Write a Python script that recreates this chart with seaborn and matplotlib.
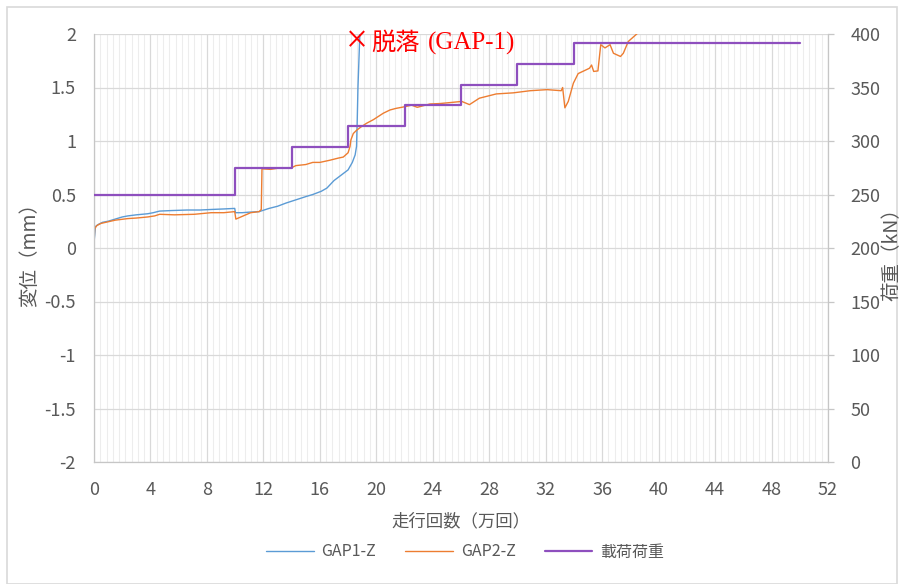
import matplotlib
matplotlib.use("Agg")
import matplotlib.pyplot as plt
from matplotlib.ticker import MultipleLocator
from matplotlib.patches import Rectangle
import seaborn as sns
import pandas as pd

# Running cycles (x 10,000) and gap displacement (mm)
gap1_x = [0, 0.05, 0.1, 0.3, 0.6, 1.0, 1.5, 2.0, 2.4, 3.0,
          3.8, 4.2, 4.65, 5.5, 6.6, 7.5, 8.3, 9.2, 9.97, 10.02,
          10.5, 11.0, 11.7, 12.4, 13.0, 13.6, 14.3, 15.0, 15.5, 16.1,
          16.5, 17.0, 17.5, 18.0, 18.3, 18.5, 18.6, 18.65, 18.7, 18.78,
          18.85, 18.9]
gap1_y = [0.05, 0.12, 0.20, 0.22, 0.24, 0.25, 0.27, 0.29, 0.30, 0.31,
          0.32, 0.33, 0.345, 0.35, 0.355, 0.355, 0.36, 0.365, 0.37, 0.33,
          0.33, 0.335, 0.34, 0.37, 0.39, 0.42, 0.45, 0.48, 0.50, 0.53,
          0.56, 0.63, 0.68, 0.73, 0.80, 0.87, 0.95, 1.20, 1.50, 1.80,
          2.05, 2.40]

gap2_x = [0, 0.05, 0.2, 0.5, 1.0, 1.5, 2.4, 3.0, 3.8, 4.3,
          4.65, 5.7, 7.1, 8.3, 9.2, 9.97, 10.05, 10.4, 11.1, 11.7,
          11.85, 11.9, 12.5, 13.0, 13.5, 14.0, 14.3, 15.0, 15.5, 16.0,
          16.7, 17.3, 17.66, 18.0, 18.14, 18.2, 18.37, 18.6, 18.9, 19.3,
          19.8, 20.5, 20.97, 21.4, 22.0, 22.5, 22.9, 23.8, 24.5, 25.3,
          26.05, 26.6, 27.3, 28.5, 29.7, 30.9, 32.1, 33.1, 33.2, 33.36,
          33.6, 33.96, 34.3, 35.1, 35.25, 35.4, 35.7, 35.9, 36.2, 36.56,
          36.8, 37.3, 37.5, 37.85, 38.45, 38.8]
gap2_y = [0.04, 0.18, 0.21, 0.23, 0.245, 0.26, 0.275, 0.28, 0.29, 0.30,
          0.315, 0.31, 0.315, 0.33, 0.33, 0.34, 0.27, 0.29, 0.33, 0.34,
          0.36, 0.74, 0.735, 0.745, 0.745, 0.75, 0.77, 0.78, 0.80, 0.80,
          0.82, 0.84, 0.85, 0.89, 0.95, 1.01, 1.07, 1.10, 1.13, 1.165,
          1.20, 1.26, 1.29, 1.305, 1.32, 1.335, 1.315, 1.346, 1.35, 1.36,
          1.37, 1.34, 1.40, 1.44, 1.45, 1.47, 1.48, 1.47, 1.50, 1.31,
          1.37, 1.54, 1.63, 1.68, 1.71, 1.65, 1.655, 1.90, 1.87, 1.90,
          1.82, 1.79, 1.82, 1.93, 2.00, 2.05]

# Applied load steps (kN), each held until the next step starts
load_x = [0, 10, 14, 18, 22, 26, 30, 34, 50]
load_kn = [250, 274.4, 294, 313.6, 333.2, 352.8, 372.4, 392, 392]

x_ticks = list(range(0, 53, 4))
y_ticks = [-2, -1.5, -1, -0.5, 0, 0.5, 1, 1.5, 2]
load_ticks = list(range(0, 401, 50))

series_labels = ["GAP1-Z", "GAP2-Z", "載荷荷重"]
colors = ["#5B9BD5", "#ED7D31", "#8E4FBE"]

sns.set_theme(style="white")
plt.rcParams["font.family"] = ["Noto Sans CJK JP", "DejaVu Sans"]
text_gray = "#595959"
grid_gray = "#d9d9d9"

fig = plt.figure(figsize=(9.05, 5.84), dpi=100)
ax = fig.add_axes([94 / 905, 1 - 462 / 584, (828 - 94) / 905, (462 - 34) / 584])
ax2 = ax.twinx()

df1 = pd.DataFrame({"x": gap1_x, "y": gap1_y})
df2 = pd.DataFrame({"x": gap2_x, "y": gap2_y})
dfl = pd.DataFrame({"x": load_x, "y": load_kn})

sns.lineplot(data=df1, x="x", y="y", ax=ax, color=colors[0], lw=1.0,
             estimator=None, sort=False, label=series_labels[0], legend=False)
sns.lineplot(data=df2, x="x", y="y", ax=ax, color=colors[1], lw=1.0,
             estimator=None, sort=False, label=series_labels[1], legend=False)
sns.lineplot(data=dfl, x="x", y="y", ax=ax2, color=colors[2], lw=1.6,
             estimator=None, sort=False, drawstyle="steps-post",
             label=series_labels[2], legend=False)

ax.set_xlim(0, 52)
ax.set_ylim(-2, 2)
ax2.set_ylim(0, 400)
ax.set_xticks(x_ticks)
ax.set_yticks(y_ticks)
ax.set_yticklabels([f"{v:g}" for v in y_ticks])
ax2.set_yticks(load_ticks)
ax.xaxis.set_minor_locator(MultipleLocator(4 / 9))

ax.grid(which="major", color=grid_gray, lw=0.9)
ax.grid(which="minor", axis="x", color="#ededed", lw=0.8)
ax.set_axisbelow(True)

for s in ["top", "right"]:
    ax.spines[s].set_visible(False)
for s in ["left", "bottom"]:
    ax.spines[s].set_color("#c6c6c6")
    ax.spines[s].set_linewidth(0.9)
for s in ["top", "left", "bottom"]:
    ax2.spines[s].set_visible(False)
ax2.spines["right"].set_color("#c6c6c6")
ax2.spines["right"].set_linewidth(0.9)

ax.tick_params(axis="x", which="both", length=0, labelsize=13,
               labelcolor=text_gray, pad=14)
ax.tick_params(axis="y", which="both", length=0, labelsize=13,
               labelcolor=text_gray, pad=13)
ax2.tick_params(axis="y", length=4, width=0.9, color="#c6c6c6",
                labelsize=13, labelcolor=text_gray, pad=12)

ax.set_xlabel("")
ax.set_ylabel("")
ax2.set_ylabel("")

fig.text(461 / 905, 1 - 521 / 584, "走行回数（万回）", ha="center", va="center",
         fontsize=12.5, color=text_gray)
fig.text(30 / 905, 1 - 250 / 584, "変位（mm）", ha="center", va="center",
         rotation=90, fontsize=14, color=text_gray)
fig.text(892 / 905, 1 - 250 / 584, "荷重（kN）", ha="center", va="center",
         rotation=90, fontsize=14, color=text_gray)

# Detachment note for GAP-1
ax.text(18.63, 1.915, "×", ha="center", va="center", color="#ff0000",
        fontsize=28, family=["Liberation Serif"], clip_on=False)
ax.text(19.62, 1.915, "脱落", ha="left", va="center", color="#ff0000",
        fontsize=17.5, family=["Noto Sans CJK JP"], clip_on=False)
ax.text(23.66, 1.915, "(GAP-1)", ha="left", va="center", color="#ff0000",
        fontsize=18, family=["Liberation Serif"], clip_on=False)

h1, l1 = ax.get_legend_handles_labels()
h2, l2 = ax2.get_legend_handles_labels()
leg = fig.legend(h1 + h2, l1 + l2, loc="center",
                 bbox_to_anchor=(465 / 905, 1 - 552 / 584), ncol=3,
                 frameon=False, fontsize=11.5, handlelength=3.0,
                 columnspacing=1.8, handletextpad=0.5)
for t in leg.get_texts():
    t.set_color(text_gray)

fig.patches.append(Rectangle((7 / 905, 0.0), 890 / 905, 1 - 7 / 584,
                             transform=fig.transFigure, fill=False,
                             edgecolor="#d9d9d9", lw=1.2))

fig.savefig("out.png", dpi=100)
